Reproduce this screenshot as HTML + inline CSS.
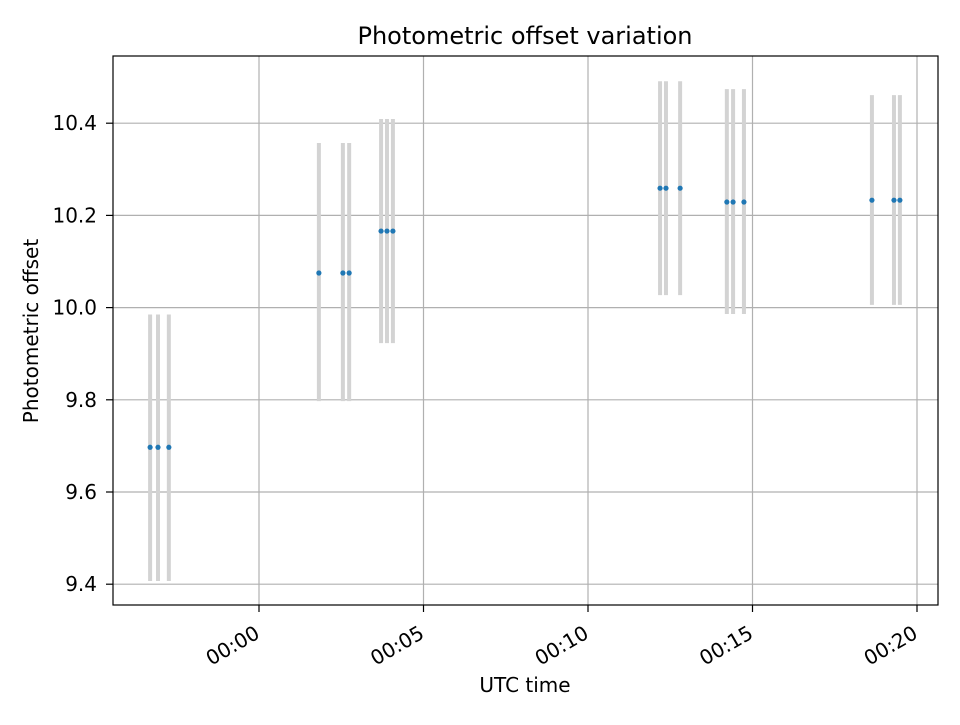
<!DOCTYPE html>
<html><head><meta charset="utf-8">
<style>
body{margin:0;background:#fff;}
svg text{font-family:"DejaVu Sans","Liberation Sans",sans-serif;fill:#000;}
</style></head>
<body>
<svg id="chart" width="960" height="720" xmlns="http://www.w3.org/2000/svg">
<rect width="960" height="720" fill="#fff"/>
<g id="grid"></g>
<g id="bars"></g>
<g id="pts"></g>
<rect x="113" y="56" width="825" height="549" fill="none" stroke="#000" stroke-width="1.2"/>
<g id="axes"></g>
<text x="525" y="44" text-anchor="middle" style="font-size:24px">Photometric offset variation</text>
<text x="525" y="692" text-anchor="middle" style="font-size:20px">UTC time</text>
<text transform="translate(38,331) rotate(-90)" text-anchor="middle" style="font-size:20px">Photometric offset</text>
</svg>
<script>
const times=[-3.31,-3.07,-2.74,1.82,2.55,2.74,3.71,3.89,4.07,12.19,12.37,12.80,14.22,14.41,14.74,18.63,19.30,19.48];
const values=[9.697,9.697,9.697,10.075,10.075,10.075,10.166,10.166,10.166,10.259,10.259,10.259,10.229,10.229,10.229,10.233,10.233,10.233];
const upper=[9.985,9.985,9.985,10.357,10.357,10.357,10.409,10.409,10.409,10.491,10.491,10.491,10.474,10.474,10.474,10.461,10.461,10.461];
const lower=[9.407,9.407,9.407,9.797,9.797,9.797,9.923,9.923,9.923,10.027,10.027,10.027,9.986,9.986,9.986,10.006,10.006,10.006];
const yTicks=[9.4,9.6,9.8,10.0,10.2,10.4];
const xTicks=[0,5,10,15,20];
const xTickLabels=["00:00","00:05","00:10","00:15","00:20"];
const NS="http://www.w3.org/2000/svg";
function X(m){return 259+m*32.9;}
function Y(v){return 307.6-(v-10.0)*461;}
function mk(tag,attrs,parent){const e=document.createElementNS(NS,tag);for(const k in attrs)e.setAttribute(k,attrs[k]);document.getElementById(parent).appendChild(e);return e;}
yTicks.forEach(v=>{
  const g=mk('line',{x1:113,x2:938,y1:Y(v),y2:Y(v),stroke:'#b0b0b0','stroke-width':1.2},'grid');
  
  
  mk('line',{x1:106,x2:113,y1:Y(v),y2:Y(v),stroke:'#000','stroke-width':1.2},'axes');
  const t=mk('text',{x:97,y:Y(v)+7,'text-anchor':'end',style:'font-size:20px'},'axes');
  t.textContent=v.toFixed(1);
  
  
});
xTicks.forEach((m,i)=>{
  const g=mk('line',{x1:X(m),x2:X(m),y1:56,y2:605,stroke:'#b0b0b0','stroke-width':1.2},'grid');
  
  
  mk('line',{x1:X(m),x2:X(m),y1:605,y2:612,stroke:'#000','stroke-width':1.2},'axes');
  const t=mk('text',{transform:`translate(${X(m)+2},${637}) rotate(-30)`,'text-anchor':'end',style:'font-size:20px'},'axes');
  t.textContent=xTickLabels[i];
  
  
});
times.forEach((m,i)=>{
  const b=mk('line',{x1:X(m),x2:X(m),y1:Y(upper[i]),y2:Y(lower[i]),stroke:'#d3d3d3','stroke-width':4},'bars');
  
  
  const p=mk('circle',{cx:X(m),cy:Y(values[i]),r:2.6,fill:'#1f77b4'},'pts');
  
  
});
</script>
</body></html>
